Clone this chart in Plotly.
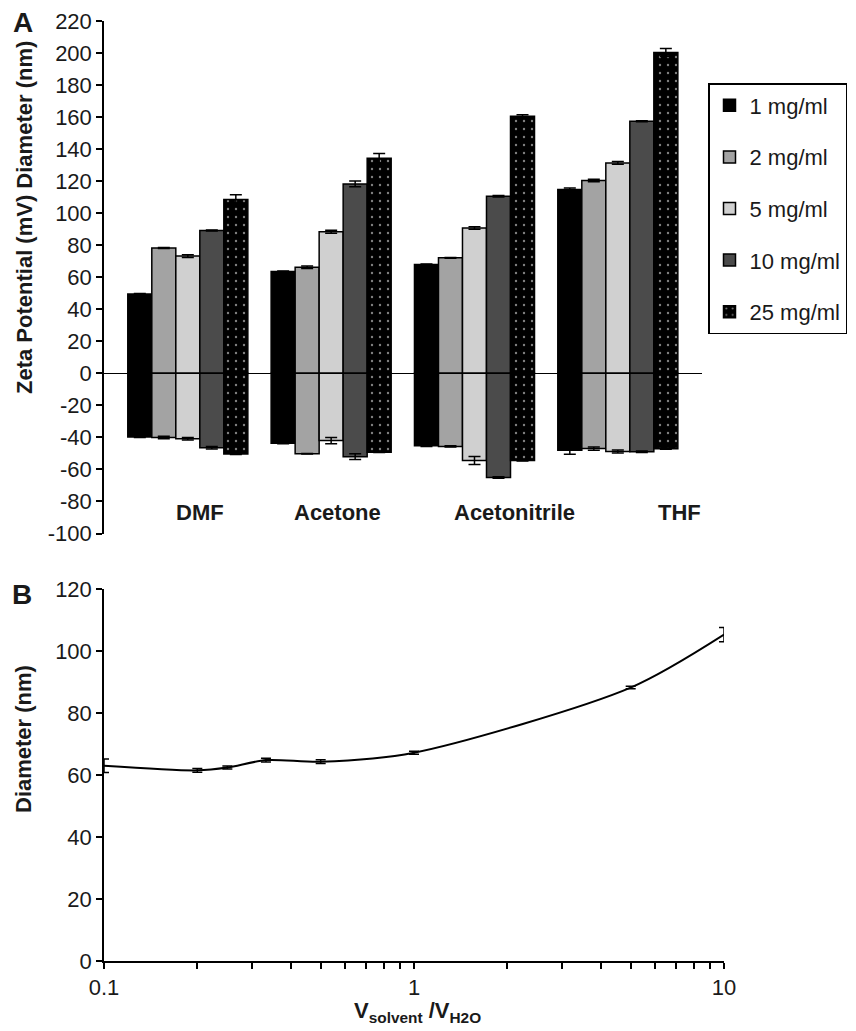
import plotly.graph_objects as go

# ---------------- data ----------------
solvents = ["DMF", "Acetone", "Acetonitrile", "THF"]
concentrations = ["1 mg/ml", "2 mg/ml", "5 mg/ml", "10 mg/ml", "25 mg/ml"]

# Diameter (nm), per concentration, per solvent
diam_1 = [49.5, 63.6, 68.0, 114.8]
diam_2 = [78.2, 66.3, 72.1, 120.4]
diam_5 = [73.2, 88.4, 90.8, 131.4]
diam_10 = [89.2, 118.3, 110.6, 157.4]
diam_25 = [108.5, 134.3, 160.5, 200.4]
diam_err_1 = [0.3, 0.3, 0.3, 1.0]
diam_err_2 = [0.3, 0.8, 0.3, 0.8]
diam_err_5 = [0.8, 1.0, 0.8, 0.8]
diam_err_10 = [0.3, 1.8, 0.5, 0.3]
diam_err_25 = [3.0, 3.0, 1.0, 2.5]

# Zeta potential (mV)
zeta_1 = [-39.8, -43.6, -45.2, -48.0]
zeta_2 = [-40.0, -50.2, -45.6, -47.0]
zeta_5 = [-40.8, -42.0, -54.4, -48.8]
zeta_10 = [-46.5, -52.0, -65.0, -49.0]
zeta_25 = [-50.4, -49.2, -54.4, -47.1]
zeta_err_1 = [0.3, 0.4, 0.4, 2.5]
zeta_err_2 = [0.8, 0.2, 0.4, 1.0]
zeta_err_5 = [0.8, 2.0, 2.5, 1.0]
zeta_err_10 = [0.8, 1.8, 0.5, 0.5]
zeta_err_25 = [0.3, 0.3, 0.3, 0.3]

# Panel B
ratio = [0.1, 0.2, 0.25, 0.333, 0.5, 1, 5, 10]
diam_b = [63.0, 61.5, 62.4, 64.8, 64.3, 67.2, 88.2, 105.3]
diam_b_err = [2.2, 0.6, 0.5, 0.6, 0.6, 0.5, 0.4, 2.3]

y_ticks_a = [-100, -80, -60, -40, -20, 0, 20, 40, 60, 80, 100, 120, 140, 160, 180, 200, 220]
y_ticktext_a = ["-100", "-80", "-60", "-40", "-20", "0", "20", "40", "60", "80",
                "100", "120", "140", "160", "180", "200", "220"]
y_ticks_b = [0, 20, 40, 60, 80, 100, 120]
x_ticks_b = [0.1, 0.2, 0.3, 0.4, 0.5, 0.6, 0.7, 0.8, 0.9,
             1, 2, 3, 4, 5, 6, 7, 8, 9, 10]
x_ticktext_b = ["0.1"] + [""] * 8 + ["1"] + [""] * 8 + ["10"]

# ---------------- styles ----------------
PAGE_OFF = 8                      # default body margin of the page
W, H = 856 - PAGE_OFF, 1031 - PAGE_OFF
FONT = "Liberation Sans, Arial, sans-serif"
bar_colors = ["#000000", "#a3a3a3", "#d0d0d0", "#4b4b4b", "#000000"]
bar_w = 0.1675
group_start = -0.42
label_dx = [0.084, 0.04, 0.28, 0.43]   # label offsets from group centre
label_y = -87


def px_x(p):
    return (p - PAGE_OFF) / W


def px_y(p):
    return 1 - (p - PAGE_OFF) / H


fig = go.Figure()

diams = [diam_1, diam_2, diam_5, diam_10, diam_25]
diam_errs = [diam_err_1, diam_err_2, diam_err_5, diam_err_10, diam_err_25]
zetas = [zeta_1, zeta_2, zeta_5, zeta_10, zeta_25]
zeta_errs = [zeta_err_1, zeta_err_2, zeta_err_5, zeta_err_10, zeta_err_25]
xs = list(range(len(solvents)))

for i, name in enumerate(concentrations):
    marker = dict(color=bar_colors[i], line=dict(color="black", width=1.5))
    if i == 4:
        marker["pattern"] = dict(shape=".", fillmode="overlay", fgcolor="white",
                                 size=8, solidity=0.07)
    for vals, errs, show in ((diams[i], diam_errs[i], True),
                             (zetas[i], zeta_errs[i], False)):
        fig.add_trace(go.Bar(
            x=xs, y=vals, name=name, legendgroup=name, showlegend=show,
            offset=group_start + i * bar_w, width=bar_w,
            marker=marker,
            error_y=dict(type="data", array=errs, color="black",
                         thickness=1.5, width=6),
            xaxis="x", yaxis="y",
        ))

fig.add_trace(go.Scatter(
    x=ratio, y=diam_b, mode="lines", line=dict(color="black", width=2, shape="spline", smoothing=0.8),
    error_y=dict(type="data", array=diam_b_err, color="black", thickness=1.5, width=5),
    showlegend=False, xaxis="x2", yaxis="y2",
))

axis_font = dict(family=FONT, size=22, color="#1a1a1a")

fig.update_layout(
    template="none",
    width=W, height=H,
    margin=dict(l=0, r=0, t=0, b=0),
    paper_bgcolor="white", plot_bgcolor="white",
    barmode="overlay",
    font=dict(family=FONT, color="black"),
    xaxis=dict(domain=[px_x(104), px_x(702)], range=[-0.586, 3.586],
               showticklabels=False, ticks="", showgrid=False, zeroline=False,
               showline=False, anchor="y", automargin=False),
    yaxis=dict(domain=[px_y(533.5), px_y(21)], range=[-100, 220],
               tickvals=y_ticks_a, ticktext=y_ticktext_a, ticks="outside", ticklen=6,
               tickwidth=1.5, tickcolor="black", showline=True, linecolor="black",
               linewidth=1.5, showgrid=False, zeroline=True, zerolinecolor="black",
               zerolinewidth=1.2, tickfont=axis_font, anchor="x", automargin=False),
    xaxis2=dict(domain=[px_x(104), px_x(724)], type="log", range=[-1, 1],
                tickvals=x_ticks_b, ticktext=x_ticktext_b, ticks="outside",
                ticklen=6, tickwidth=1.5, tickcolor="black", showline=True,
                linecolor="black", linewidth=1.5, showgrid=False, zeroline=False,
                tickfont=axis_font, anchor="y2", automargin=False),
    yaxis2=dict(domain=[px_y(961), px_y(589)], range=[0, 120],
                tickvals=y_ticks_b, ticks="outside", ticklen=6, tickwidth=1.5,
                tickcolor="black", showline=True, linecolor="black", linewidth=1.5,
                showgrid=False, zeroline=False, tickfont=axis_font, anchor="x2",
                automargin=False),
    legend=dict(x=px_x(708), y=px_y(83), xanchor="left", yanchor="top",
                bordercolor="black", borderwidth=1.5, bgcolor="white",
                font=dict(family=FONT, size=22, color="#1a1a1a"),
                traceorder="grouped", tracegroupgap=20, itemwidth=30),
)


def paper_note(text, x, y, size=22, angle=0):
    return dict(text=text, x=px_x(x), y=px_y(y), xref="paper", yref="paper",
                xanchor="center", yanchor="middle", showarrow=False,
                textangle=angle, font=dict(size=size, family=FONT, color="#1a1a1a"))


annotations = [
    paper_note("<b>A</b>", 23, 23, size=28),
    paper_note("<b>B</b>", 22, 594, size=28),
    paper_note("<b>Zeta Potential (mV) Diameter (nm)</b>", 24, 218, angle=-90),
    paper_note("<b>Diameter (nm)</b>", 23, 739, angle=-90),
    paper_note("<b>V<sub>solvent</sub> /V<sub>H2O</sub></b>", 417, 1012),
]
for k, s in enumerate(solvents):
    annotations.append(dict(text=f"<b>{s}</b>", x=xs[k] + label_dx[k], y=label_y,
                            xref="x", yref="y", xanchor="center", yanchor="middle",
                            showarrow=False,
                            font=dict(size=22, family=FONT, color="#1a1a1a")))
fig.update_layout(annotations=annotations)

fig.write_html("out.html")
